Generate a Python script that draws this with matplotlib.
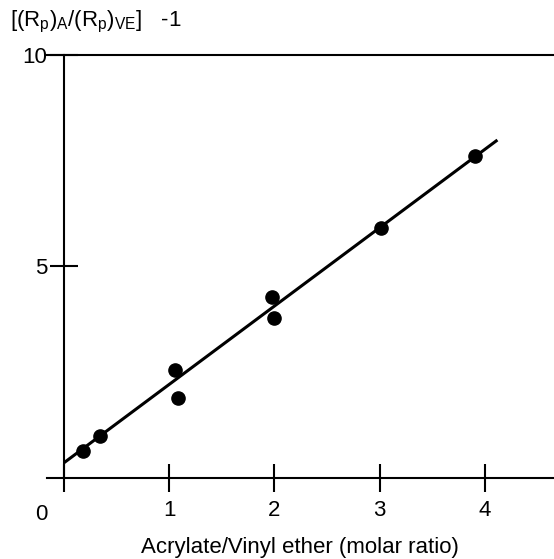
import matplotlib
matplotlib.use("Agg")
import matplotlib.pyplot as plt

plt.rcParams['font.family'] = ['Liberation Sans', 'DejaVu Sans']
plt.rcParams['mathtext.fontset'] = 'custom'
plt.rcParams['mathtext.rm'] = 'Liberation Sans'
plt.rcParams['mathtext.it'] = 'Liberation Sans'
plt.rcParams['mathtext.bf'] = 'Liberation Sans:bold'

# data
ratio = [0.18, 0.34, 1.055, 1.08, 1.98, 2.0, 3.01, 3.91]
rate = [0.64, 1.0, 2.56, 1.90, 4.29, 3.79, 5.9, 7.61]
fit_x = [0.0, 4.12]
fit_y = [0.36, 7.99]
xticks = [0, 1, 2, 3, 4]
xticklabels = ['', '1', '2', '3', '4']
yticks = [5, 10]
yticklabels = ['5', '10']

fig = plt.figure(figsize=(5.54, 5.59), dpi=100)
ax = fig.add_axes([47/554, (559-499.1)/559, 507/554, (499.1-55)/559])

ax.plot(fit_x, fit_y, color='black', lw=2.2, solid_capstyle='butt')
ax.plot(ratio, rate, 'o', color='black', ms=9.5)

ax.set_xlim(-0.162, 4.658)
ax.set_ylim(-0.5, 10)

ax.spines['right'].set_visible(False)
ax.spines['bottom'].set_position(('data', 0))
ax.spines['left'].set_position(('data', 0))
ax.spines['left'].set_bounds(0, 10)
for s in ['top', 'bottom', 'left']:
    ax.spines[s].set_linewidth(1.5)

ax.set_xticks(xticks)
ax.set_xticklabels(xticklabels)
ax.set_yticks(yticks)
ax.set_yticklabels(yticklabels)
ax.tick_params(axis='both', direction='inout', length=20, width=1.5, labelsize=16)
ax.tick_params(axis='x', pad=6)
ax.tick_params(axis='y', pad=2)

# the shared origin label sits left of the origin, on the x label row
ax.text(-0.22, -0.62, '0', fontsize=16, ha='center', va='top', clip_on=False)

fig.text(300/554, 1 - 547/559, 'Acrylate/Vinyl ether (molar ratio)', fontsize=16,
         ha='center', va='center')
fig.text(10/554, 1 - 22/559, r'$[(\mathrm{R_p})_\mathrm{A}/(\mathrm{R_p})_\mathrm{VE}]$   -1',
         fontsize=16, ha='left', va='center')

fig.savefig('out.png', dpi=100)
